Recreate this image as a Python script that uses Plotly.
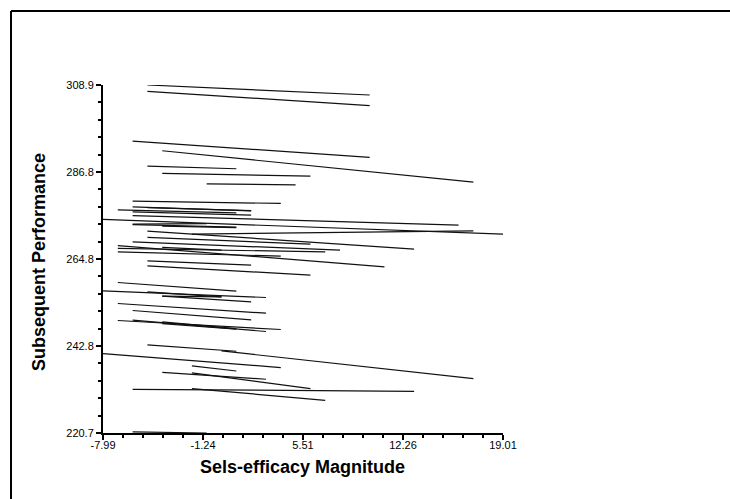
import plotly.graph_objects as go

# Each row is one regression segment: (x_start, y_start) -> (x_end, y_end)
x_start = [-4.99, -4.99, -5.99, -3.99, -4.99, -3.99, -0.99, -5.99,
           -5.99, -6.99, -5.99, -4.99, -7.99, -5.99, -5.99, -5.99,
           -3.99, -4.99, -1.99, -4.99, -5.99, -6.99, -6.99, -6.99,
           -3.99, -4.99, -4.99, -6.99, -7.99, -4.99, -3.99, -3.99,
           -6.99, -5.99, -6.99, -5.99, -3.99, -3.99, -4.99, 0.01,
           -7.99, -1.99, -3.99, -1.99, -5.99, -1.99, -5.99]
x_end = [10.01, 10.01, 10.01, 17.01, 1.01, 6.01, 5.01, 4.01,
         2.01, 1.01, 2.01, 2.01, 19.01, 16.01, -0.99, 1.01,
         1.01, 13.01, 17.01, 6.01, 8.01, 11.01, 7.01, 4.01,
         0.01, 2.01, 6.01, 1.01, 3.01, 0.01, 2.01, 0.01,
         3.01, 2.01, 4.01, 3.01, 1.01, 1.01, 1.01, 17.01,
         4.01, 1.01, 3.01, 6.01, 13.01, 7.01, -0.99]
y_start = [308.90, 307.30, 294.69, 292.23, 288.35, 286.50, 283.86, 279.47,
           278.03, 277.27, 276.76, 277.82, 274.83, 275.80, 273.64, 273.51,
           273.13, 271.86, 271.10, 270.26, 269.15, 268.20, 267.47, 266.61,
           267.73, 264.33, 263.06, 258.85, 256.72, 256.46, 255.37, 255.37,
           253.52, 251.75, 249.21, 249.29, 248.85, 248.40, 243.02, 241.50,
           240.84, 237.69, 236.09, 235.92, 231.78, 231.96, 221.00]
y_end = [306.36, 303.65, 290.56, 284.29, 287.67, 285.82, 283.61, 278.89,
         277.01, 276.51, 275.92, 277.06, 271.10, 273.39, 273.77, 272.88,
         272.75, 267.30, 271.94, 268.57, 267.04, 262.81, 266.61, 265.52,
         267.04, 263.24, 260.70, 256.64, 255.04, 255.20, 253.93, 255.20,
         251.06, 249.36, 246.93, 246.42, 247.18, 247.00, 241.42, 234.50,
         237.29, 236.42, 234.32, 231.96, 231.27, 228.99, 220.70]

x_ticks = [-7.99, -1.24, 5.51, 12.26, 19.01]
x_labels = ["-7.99", "-1.24", "5.51", "12.26", "19.01"]
y_ticks = [220.7, 242.75, 264.8, 286.85, 308.9]
y_labels = ["220.7", "242.8", "264.8", "286.8", "308.9"]

# Join the segments into one trace, separated by gaps
xs, ys = [], []
for x0, x1, y0, y1 in zip(x_start, x_end, y_start, y_end):
    xs += [x0, x1, None]
    ys += [y0, y1, None]

fig = go.Figure()
fig.add_trace(go.Scatter(
    x=xs, y=ys, mode="lines",
    line=dict(color="#111111", width=1.2),
    connectgaps=False, hoverinfo="skip", showlegend=False,
))

FONT = "Liberation Sans, Arial, sans-serif"
axis_common = dict(
    showgrid=False, zeroline=False, showline=True,
    linecolor="black", linewidth=2,
    ticks="outside", ticklen=5, tickwidth=1.5, tickcolor="black",
    tickfont=dict(family=FONT, size=11, color="black"),
    tickmode="array",
)

fig.update_xaxes(
    range=[-7.99, 19.01], tickvals=x_ticks, ticktext=x_labels,
    ticklabelstandoff=-4,
    minor=dict(tick0=-7.99, dtick=1.35, ticks="outside", ticklen=3,
               tickwidth=1.5, tickcolor="black"),
    **axis_common,
)
fig.update_yaxes(
    range=[220.7, 308.9], tickvals=y_ticks, ticktext=y_labels,
    minor=dict(tick0=220.7, dtick=4.41, ticks="outside", ticklen=3,
               tickwidth=1.5, tickcolor="black"),
    **axis_common,
)

# Outer frame (top and left edges visible)
frame = dict(type="line", xref="paper", yref="paper",
             line=dict(color="black", width=2))
fig.add_shape(x0=-0.23, x1=1.6, y0=1.2126, y1=1.2126, **frame)
fig.add_shape(x0=-0.23, x1=-0.23, y0=1.2126, y1=-0.25, **frame)

title_font = dict(family=FONT, size=18, color="black")
fig.add_annotation(text="<b>Sels-efficacy Magnitude</b>", xref="paper", yref="paper",
                   x=0.4975, y=-0.099, showarrow=False, font=title_font,
                   xanchor="center", yanchor="middle")
fig.add_annotation(text="<b>Subsequent Performance</b>", xref="paper", yref="paper",
                   x=-0.16, y=0.4914, showarrow=False, font=title_font,
                   textangle=-90, xanchor="center", yanchor="middle")

fig.update_layout(
    width=730, height=499,
    margin=dict(l=103, r=227, t=85, b=66),
    paper_bgcolor="white", plot_bgcolor="white",
    showlegend=False,
)

fig.write_html("out.html")
